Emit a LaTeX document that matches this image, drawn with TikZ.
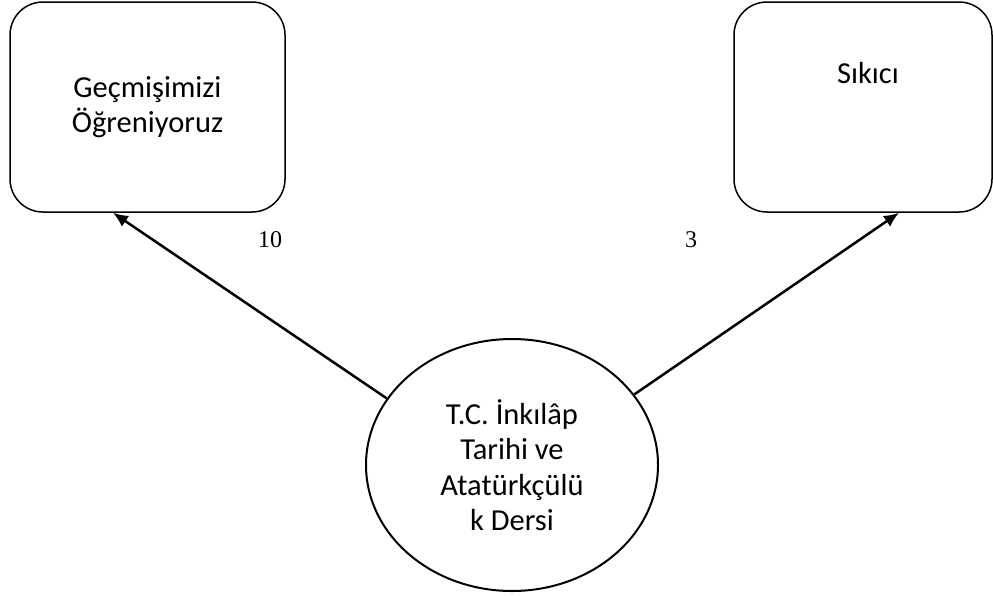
\documentclass[tikz,border=0pt]{standalone}
\usepackage{fontspec}
\setmainfont{Carlito}
\newfontfamily\timesf{Liberation Serif}
\usetikzlibrary{arrows.meta,shapes.geometric}
\tikzset{
  box/.style={draw, line width=1.5pt, rounded corners=33pt, minimum width=#1, minimum height=210pt, inner sep=0pt},
  ellbox/.style={draw, ellipse, line width=2pt, minimum width=292pt, minimum height=252pt, inner sep=0pt, align=center},
  lbl/.style={font=\fontsize{30.5}{35.5}\selectfont},
  num/.style={font=\timesf\fontsize{24}{28}\selectfont, anchor=base},
  conn/.style={line width=2.5pt, -{Latex[length=15pt,width=13pt]}}
}
\begin{document}
\begin{tikzpicture}[x=1pt,y=-1pt]
\useasboundingbox (0,0) rectangle (993,595);
\node[box=275pt, lbl, align=center] (lbox) at (147.5,107) {Geçmişimizi\\Öğreniyoruz};
\node[box=258pt] (rbox) at (863,107) {};
\node[lbl, anchor=base] (rtxt) at (868,83) {Sıkıcı};
\node[ellbox, lbl] (ell) at (512,465) {T.C. İnkılâp\\Tarihi ve\\Atatürkçülü\\k Dersi};
\draw[conn] (ell.152) -- ([xshift=-34.5pt]lbox.south);
\draw[conn] (ell.30) -- ([xshift=36pt]rbox.south);
\node[num] (n10) at (270,247) {10};
\node[num] (n3) at (691,247) {3};
\end{tikzpicture}
\end{document}
